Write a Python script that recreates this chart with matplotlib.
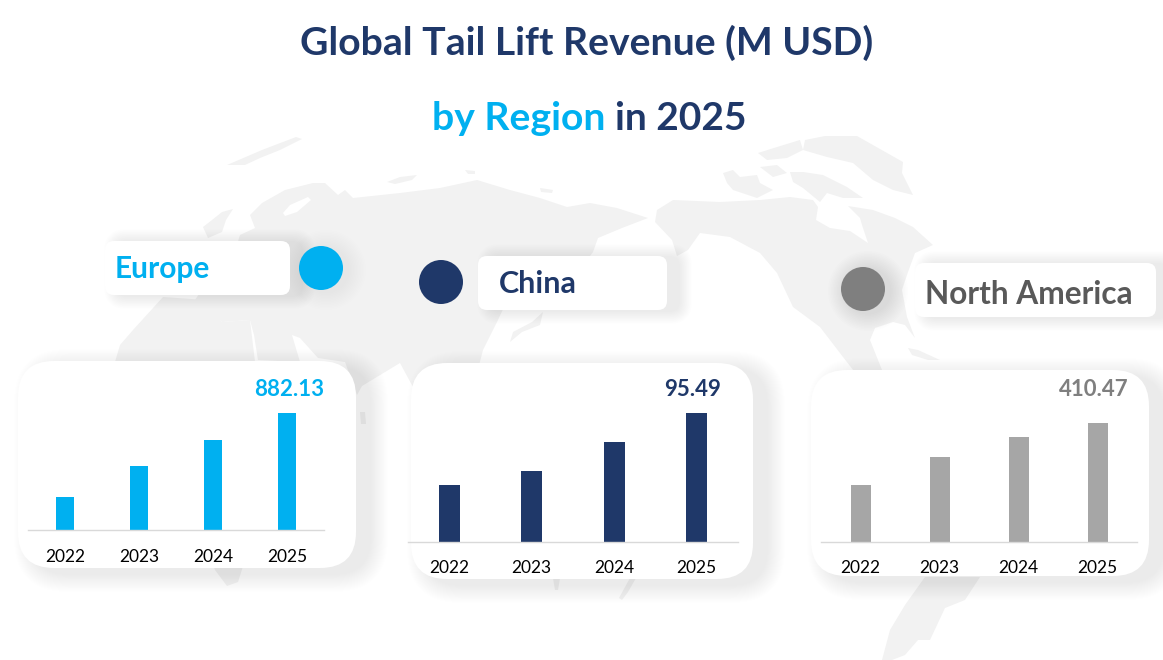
#Global tail lift revenue cards on a world map backdrop

import matplotlib
matplotlib.use('Agg')
import matplotlib.pyplot as plt
from matplotlib.patches import FancyBboxPatch, Polygon, Circle

plt.rcParams['font.family'] = ['Lato', 'DejaVu Sans']

W = 1163
H = 660

BLUE = '#00B0F0'
NAVY = '#1F3869'
GREY = '#7F7F7F'
LIGHT_GREY = '#A6A6A6'
DARK_GREY = '#595959'
MAP_COLOR = '#F2F2F2'

years = ['2022', '2023', '2024', '2025']
europe_values = [249, 482, 678, 882.13]
china_values = [42.2, 52.6, 74.0, 95.49]
north_america_values = [197, 293, 362, 410.47]

#backdrop outlines, in pixels of the picture
eurasia = [(203,300),(222,322),(250,320),(254,335),(258,360),(300,362),(292,335),(300,338),(318,358),(345,362),
    (357,395),(362,386),(400,363),(420,400),(470,400),(483,350),(497,322),(505,305),(520,300),(530,300),(560,296),
    (593,252),(598,238),(622,228),(648,218),(617,208),(590,203),(567,207),(540,198),(510,190),(477,180),(440,188),
    (400,193),(353,198),(345,190),(338,195),(325,183),(313,183),(285,190),(262,203),(250,215),(255,228),(240,235),
    (236,248),(215,270),(195,300)]
africa = [(115,362),(120,345),(133,330),(163,297),(205,300),(222,322),(250,320),(255,362),(255,400),(300,440),
    (270,520),(245,560),(238,582),(227,586),(215,570),(190,500),(150,440),(115,400)]
greenland_west = [(227,165),(262,150),(296,137),(302,139),(280,150),(260,158),(245,165)]
uk = [(203,227),(212,220),(222,212),(233,209),(226,220),(222,232),(208,238)]
north_america = [(657,210),(673,200),(720,202),(760,200),(790,197),(813,200),(818,207),(816,220),(830,228),(850,231),
    (868,243),(862,225),(860,218),(848,206),(873,210),(895,218),(913,227),(933,245),(915,253),(908,272),(902,290),
    (907,317),(915,338),(905,325),(893,322),(875,328),(870,340),(878,360),(884,375),(857,375),(843,357),(820,327),
    (793,307),(777,273),(760,253),(730,237),(700,233),(688,250),(677,256),(672,240),(655,222)]
isle_a = [(723,173),(733,170),(740,177),(757,175),(760,183),(773,190),(757,198),(733,190),(727,183)]
isle_b = [(758,153),(777,147),(800,140),(803,150),(787,158),(767,160)]
isle_c = [(760,167),(777,165),(787,173),(773,177)]
isle_d = [(790,172),(803,172),(823,175),(847,187),(863,198),(843,198),(827,193),(820,202),(803,188),(793,182)]
greenland_east = [(805,140),(825,136),(857,136),(903,162),(902,173),(913,195),(893,190),(873,180),(853,163),(827,157),(803,150)]
novaya_zemlya = [(387,182),(400,177),(417,175),(412,180),(395,184)]
arctic_dot = [(465,170),(475,171),(475,174),(468,174)]
arctic_dot_2 = [(540,188),(553,190),(552,193),(541,192)]
cuba = [(908,348),(918,350),(940,360),(928,360),(912,355)]
japan = [(543,312),(540,325),(522,332),(510,342),(513,332),(532,322)]
south_america = [(980,577),(965,600),(945,608),(930,640),(918,640),(905,655),(892,660),(882,660),(890,630),(905,605),(925,577)]
sumatra = [(553,578),(560,578),(558,590),(555,590)]
borneo = [(630,578),(636,578),(628,592),(622,600),(619,598)]
sri_lanka = [(360,412),(365,412),(366,424),(361,424)]
map_shapes = [eurasia, africa, greenland_west, uk, north_america, isle_a, isle_b, isle_c, isle_d, greenland_east,
    novaya_zemlya, arctic_dot, arctic_dot_2, cuba, japan, south_america, sumatra, borneo, sri_lanka]
baltic = [(283,213),(290,205),(308,197),(311,200),(297,212),(285,216)]

fig = plt.figure(figsize=(W/100, H/100), dpi=100, facecolor='white')
bg = fig.add_axes([0, 0, 1, 1])
bg.set_xlim(0, W)
bg.set_ylim(H, 0)
bg.axis('off')

for shape in map_shapes:
    bg.add_patch(Polygon(shape, closed=True, facecolor=MAP_COLOR, edgecolor='none', zorder=1))
bg.add_patch(Polygon(baltic, closed=True, facecolor='white', edgecolor='none', zorder=1.5))


def shadow_box(x0, y0, x1, y1, radius, blur, dx, dy, alpha=0.0045):
    #stack of see-through boxes stands in for a soft shadow
    steps = 20
    for i in range(steps):
        grow = blur * (1 - i / steps)
        bg.add_patch(FancyBboxPatch((x0 + dx - grow, y0 + dy - grow), x1 - x0 + 2*grow, y1 - y0 + 2*grow,
            boxstyle='round,pad=0,rounding_size=' + str(radius + grow),
            facecolor='black', edgecolor='none', alpha=alpha, zorder=2))
    bg.add_patch(FancyBboxPatch((x0, y0), x1 - x0, y1 - y0,
        boxstyle='round,pad=0,rounding_size=' + str(radius),
        facecolor='white', edgecolor='none', zorder=3))


def dot(cx, cy, color, glow):
    for i in range(12):
        bg.add_patch(Circle((cx + 5, cy + 2), 22 + 18 * (1 - i / 12), facecolor='black', edgecolor='none', alpha=glow, zorder=2))
    bg.add_patch(Circle((cx, cy), 22, facecolor=color, edgecolor='none', zorder=4))


#label boxes and dots
shadow_box(105, 241, 290, 295, 9, 13, 12, 1)
shadow_box(478, 256, 667, 310, 9, 13, 12, 1)
shadow_box(915, 263, 1156, 317, 9, 13, 12, 1)
dot(321, 268, BLUE, 0.002)
dot(441, 282, NAVY, 0.001)
dot(863, 289, GREY, 0.008)

bg.text(115, 269, 'Europe', color=BLUE, fontsize=21.5, fontweight='bold', va='center', ha='left', zorder=5)
bg.text(499, 284, 'China', color=NAVY, fontsize=22, fontweight='bold', va='center', ha='left', zorder=5)
bg.text(925, 294, 'North America', color=DARK_GREY, fontsize=22.8, fontweight='bold', va='center', ha='left', zorder=5)

#title
bg.text(587, 43, 'Global Tail Lift Revenue (M USD)', color=NAVY, fontsize=28.2, fontweight='bold', ha='center', va='center', zorder=5)
bg.text(432, 119, 'by Region', color=BLUE, fontsize=28.2, fontweight='bold', ha='left', va='center', zorder=5)
bg.text(615, 119, 'in 2025', color=NAVY, fontsize=28, fontweight='bold', ha='left', va='center', zorder=5)

#cards
shadow_box(18, 361, 356, 568, 36, 18, 14, 6)
shadow_box(411, 363, 753, 579, 36, 18, 14, 6)
shadow_box(811, 370, 1149, 576, 36, 18, 14, 6)


def bar_card(values, color, value_color, x0, x1, top, base, bar_px, label_y, value_x, value_y):
    ax = fig.add_axes([x0 / W, 1 - base / H, (x1 - x0) / W, (base - top) / H])
    ax.patch.set_alpha(0)
    step = (x1 - x0) / len(values)
    ax.bar(range(len(values)), values, width=bar_px / step, color=color)
    ax.set_xlim(-0.5, len(values) - 0.5)
    ax.set_ylim(0, max(values))
    ax.set_yticks([])
    ax.set_xticks(range(len(values)))
    ax.set_xticklabels(years, fontsize=12.5, color='black')
    ax.tick_params(axis='x', length=0, pad=label_y - base - 11)
    for side in ['top', 'left', 'right']:
        ax.spines[side].set_visible(False)
    ax.spines['bottom'].set_color('#D9D9D9')
    ax.spines['bottom'].set_linewidth(1)
    bar_x = x0 + step * (len(values) - 0.5)
    ax.annotate(str(values[-1]), xy=(len(values) - 1, max(values)),
        xytext=(value_x - bar_x, top - value_y), textcoords='offset pixels',
        color=value_color, fontsize=16, fontweight='bold', ha='center', va='center', annotation_clip=False)
    return ax


bar_card(europe_values, BLUE, BLUE, 28, 324, 413, 530, 18, 555, 289, 389)
bar_card(china_values, NAVY, NAVY, 408, 738, 413, 542, 21, 566, 693, 390)
bar_card(north_america_values, LIGHT_GREY, GREY, 821, 1137, 423, 542, 20, 566, 1094, 389)

fig.savefig('out.png', dpi=100)
